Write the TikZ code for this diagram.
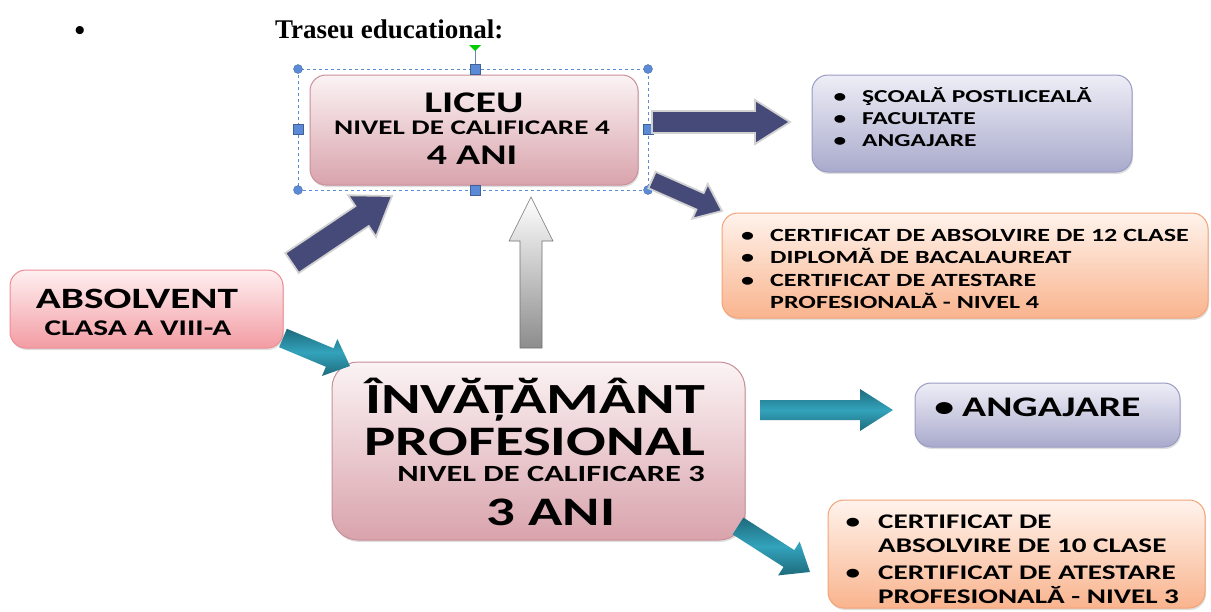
\documentclass[tikz,border=0pt]{standalone}
\usepackage{fontspec}
\setmainfont{Liberation Serif}
\newfontfamily\calfont[FakeStretch=1.4]{Carlito}
\usetikzlibrary{shadows}
\definecolor{navy}{HTML}{464A78}
\definecolor{tealL}{HTML}{33A3BC}
\definecolor{tealD}{HTML}{1E6B7C}
\definecolor{pinkT}{HTML}{FBF3F4}
\definecolor{pinkB}{HTML}{D9A3AC}
\definecolor{pinkE}{HTML}{C9909A}
\definecolor{rosT}{HTML}{FFF0F1}
\definecolor{rosB}{HTML}{F29CA3}
\definecolor{rosE}{HTML}{EE8C95}
\definecolor{bluT}{HTML}{EEEEF7}
\definecolor{bluB}{HTML}{A9AACC}
\definecolor{bluE}{HTML}{9A9BC4}
\definecolor{orT}{HTML}{FFF3EC}
\definecolor{orB}{HTML}{F9B48E}
\definecolor{orE}{HTML}{F4A376}
\definecolor{selblue}{HTML}{5B8BD6}
\newcommand\fsz[1]{\fontsize{#1}{#1}\selectfont}
% block arrow: x1 y1 x2 y2 halfshaft halfhead headlen style
\newcommand\barrow[8]{%
  \pgfmathsetmacro\ba{atan2(-(#4-#2),#3-#1)}%
  \pgfmathsetmacro\bl{veclen(#3-#1,#4-#2)}%
  \begin{scope}[shift={(#1,#2)},rotate=\ba]
    \path[#8] (0,-#5) -- (\bl-#7,-#5) -- (\bl-#7,-#6) -- (\bl,0) -- (\bl-#7,#6) -- (\bl-#7,#5) -- (0,#5) -- cycle;
  \end{scope}}
\tikzset{
  box/.style={rectangle, rounded corners=16pt, line width=1pt, inner sep=0pt,
    drop shadow={opacity=0.25, shadow xshift=1pt, shadow yshift=-2pt}},
  pinkbox/.style={box, draw=pinkE, top color=pinkT, bottom color=pinkB},
  rosbox/.style={box, draw=rosE, top color=rosT, bottom color=rosB},
  blubox/.style={box, draw=bluE, top color=bluT, bottom color=bluB},
  orbox/.style={box, draw=orE, top color=orT, bottom color=orB},
  txt/.style={inner sep=0pt, font=\calfont\bfseries},
  navyarrow/.style={fill=navy, draw=black!18, line width=1.8pt},
  tealarrow/.style={top color=tealD, bottom color=tealD, middle color=tealL, draw=none},
  grayarrow/.style={top color=white, bottom color=black!45, draw=black!55, line width=0.6pt},
  handle/.style={fill=selblue, draw=selblue!70!black, line width=0.3pt}
}
\begin{document}
\begin{tikzpicture}[x=1pt,y=-1pt]
\useasboundingbox[fill=white] (0,0) rectangle (1211,611);
% title
\node[inner sep=0pt, anchor=base, font=\bfseries\fsz{30}] (bul) at (80,40) {\textbullet};
\node[inner sep=0pt, anchor=base west, font=\bfseries\fsz{27}] (title) at (275,38) {Traseu educational:};
% boxes
\node[pinkbox, minimum width=328pt, minimum height=110pt] (liceu) at (474,130) {};
\node[blubox, minimum width=320pt, minimum height=97pt] (bluetop) at (972,123.5) {};
\node[orbox, minimum width=486pt, minimum height=105pt] (ortop) at (965,265.5) {};
\node[rosbox, minimum width=273pt, minimum height=78pt] (absolv) at (146.5,309) {};
\node[pinkbox, rounded corners=26pt, minimum width=413pt, minimum height=178pt] (invat) at (538.5,451) {};
\node[blubox, minimum width=265pt, minimum height=64pt] (angaj) at (1047.5,415) {};
\node[orbox, minimum width=377pt, minimum height=108pt] (orbot) at (1016.5,554) {};
% selection frame
\draw[selblue, dashed, line width=0.8pt] (298,69) rectangle (648,190);
\draw[selblue!60!gray, line width=1pt] (475,47) -- (475,69);
\fill[green!80!black] (469,45) -- (481,45) -- (475,51) -- cycle;
\foreach \p in {(298,69),(648,69),(298,190),(648,190)} \fill[handle] \p circle (4.5);
\foreach \p in {(475,69),(298,129),(648,129),(475,190)} \filldraw[handle] \p ++(-5,-5) rectangle ++(10,10);
% arrows
\barrow{652}{122}{790}{122}{11}{22}{35}{navyarrow}
\barrow{652}{180}{722}{211}{9}{19}{24}{navyarrow}
\barrow{292}{263}{392}{196}{12}{25}{36}{navyarrow}
\barrow{531}{348}{531}{197}{11}{22}{44}{grayarrow}
\barrow{283}{338}{350}{366}{10}{20}{22}{tealarrow}
\barrow{760}{410}{893}{410}{10}{21}{33}{tealarrow}
\barrow{738}{526}{810}{572}{10}{20}{25}{tealarrow}
% texts: liceu
\node[txt, anchor=base, font=\calfont\bfseries\fsz{30}] (t1) at (474,112) {LICEU};
\node[txt, anchor=base, font=\calfont\bfseries\fsz{20.8}] (t2) at (472,134) {NIVEL DE CALIFICARE 4};
\node[txt, anchor=base, font=\calfont\bfseries\fsz{28.5}] (t3) at (472,164) {4 ANI};
% absolvent
\node[txt, anchor=base, font=\calfont\bfseries\fsz{29.5}] (t4) at (137,308) {ABSOLVENT};
\node[txt, anchor=base, font=\calfont\bfseries\fsz{22.4}] (t5) at (138,335) {CLASA A VIII-A};
% invatamant
\node[txt, anchor=base, font=\calfont\bfseries\fsz{43}] (t6) at (535,413) {ÎNVĂȚĂMÂNT};
\node[txt, anchor=base, font=\calfont\bfseries\fsz{42}] (t7) at (535,455) {PROFESIONAL};
\node[txt, anchor=base, font=\calfont\bfseries\fsz{23.2}] (t8) at (551,481) {NIVEL DE CALIFICARE 3};
\node[txt, anchor=base, font=\calfont\bfseries\fsz{40.5}] (t9) at (551,525) {3 ANI};
% blue top list
\begin{scope}[every node/.style={txt, anchor=base west, font=\calfont\bfseries\fsz{18.2}}]
\node (b1) at (862,102) {\llap{\textbullet\hspace{16pt}}ŞCOALĂ POSTLICEALĂ};
\node (b2) at (862,124) {\llap{\textbullet\hspace{16pt}}FACULTATE};
\node (b3) at (862,146) {\llap{\textbullet\hspace{16pt}}ANGAJARE};
\end{scope}
\begin{scope}[every node/.style={txt, anchor=base west, font=\calfont\bfseries\fsz{18.6}}]
\node (o1) at (770,241) {\llap{\textbullet\hspace{16pt}}CERTIFICAT DE ABSOLVIRE DE 12 CLASE};
\node (o2) at (770,263) {\llap{\textbullet\hspace{16pt}}DIPLOMĂ DE BACALAUREAT};
\node (o3) at (770,286) {\llap{\textbullet\hspace{16pt}}CERTIFICAT DE ATESTARE};
\node (o4) at (770,308) {PROFESIONALĂ - NIVEL 4};
\end{scope}
\begin{scope}[every node/.style={txt, anchor=base west, font=\calfont\bfseries\fsz{20.8}}]
\node (p1) at (878,528) {\llap{\textbullet\hspace{18pt}}CERTIFICAT DE};
\node (p2) at (878,552) {ABSOLVIRE DE 10 CLASE};
\node (p3) at (878,579) {\llap{\textbullet\hspace{18pt}}CERTIFICAT DE ATESTARE};
\node (p4) at (878,603) {PROFESIONALĂ - NIVEL 3};
\end{scope}
\node[txt, anchor=base west, font=\calfont\bfseries\fsz{28.4}] (a1) at (962,416) {\llap{\textbullet\hspace{8pt}}ANGAJARE};
\end{tikzpicture}
\end{document}
